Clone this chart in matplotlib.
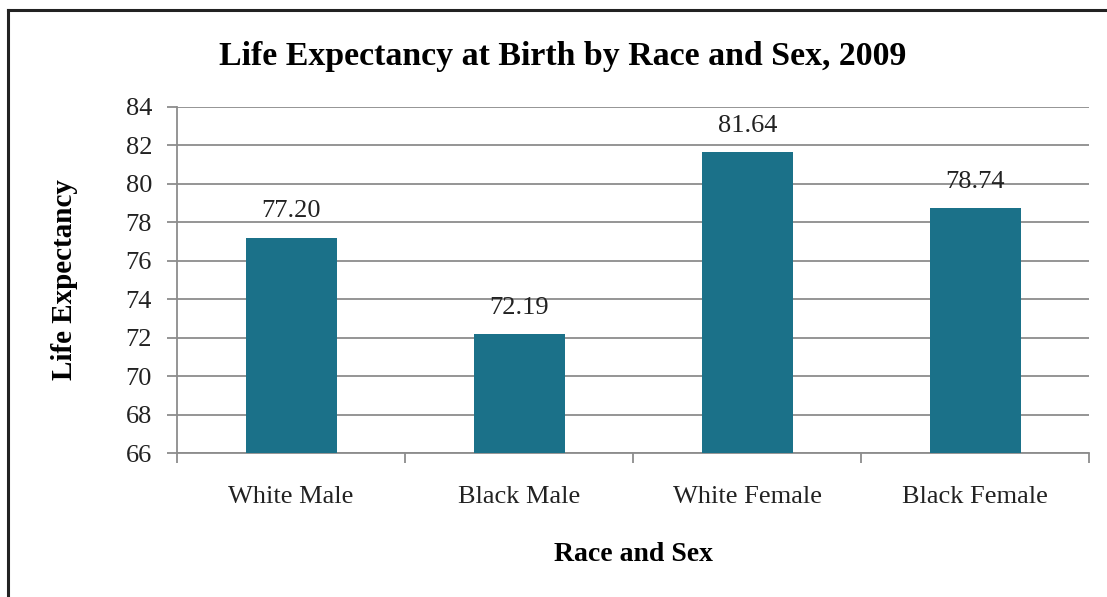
import matplotlib
matplotlib.use("Agg")
import matplotlib.pyplot as plt
from matplotlib.lines import Line2D

categories = ["White Male", "Black Male", "White Female", "Black Female"]
values = [77.20, 72.19, 81.64, 78.74]
value_labels = ["77.20", "72.19", "81.64", "78.74"]
yticks = [66, 68, 70, 72, 74, 76, 78, 80, 82, 84]

plt.rcParams['font.family'] = ['Liberation Serif', 'DejaVu Serif']

fig = plt.figure(figsize=(11.07, 5.97), dpi=100)
ax = fig.add_axes([0.160, 0.241, 0.824, 0.580])

bar_color = "#1B7189"
grid_color = "#8C8C8C"

x = list(range(len(categories)))
bars = ax.bar(x, values, width=0.4, color=bar_color, zorder=3, bottom=0)
ax.set_ylim(66, 84)
ax.set_xlim(-0.5, 3.5)

ax.set_yticks(yticks)
ax.set_yticklabels([str(t) for t in yticks], fontsize=19, color="#222222")
ax.yaxis.grid(True, color=grid_color, linewidth=1.3, zorder=0)
ax.set_axisbelow(True)
ax.tick_params(axis='y', length=7, width=1.3, color=grid_color, pad=11)

ax.set_xticks(x)
ax.set_xticklabels(categories, fontsize=19, color="#222222")
ax.tick_params(axis='x', which='major', length=0, pad=24)
ax.set_xticks([-0.5, 0.5, 1.5, 2.5, 3.5], minor=True)
ax.tick_params(axis='x', which='minor', length=7, width=1.3, color=grid_color)

for s in ['top', 'right']:
    ax.spines[s].set_visible(False)
for s in ['left', 'bottom']:
    ax.spines[s].set_color(grid_color)
    ax.spines[s].set_linewidth(1.3)

for xi, v, lab in zip(x, values, value_labels):
    ax.annotate(lab, (xi, v), xytext=(0, 11), textcoords='offset points',
                ha='center', va='bottom', fontsize=19, color="#222222")

ax.set_xlabel("Race and Sex", fontsize=20, fontweight='bold', labelpad=24)
ax.set_ylabel("Life Expectancy", fontsize=21, fontweight='bold', labelpad=34)

fig.text(0.508, 0.905, "Life Expectancy at Birth by Race and Sex, 2009",
         ha='center', va='center', fontsize=24.4, fontweight='bold')

# figure frame (top and left edges)
fig.add_artist(Line2D([8/1107, 1.0], [1 - 10/597, 1 - 10/597], color="#222222", linewidth=2.2,
                      transform=fig.transFigure))
fig.add_artist(Line2D([8/1107, 8/1107], [0.0, 1 - 10/597], color="#222222", linewidth=2.2,
                      transform=fig.transFigure))

fig.savefig("out.png", dpi=100)
